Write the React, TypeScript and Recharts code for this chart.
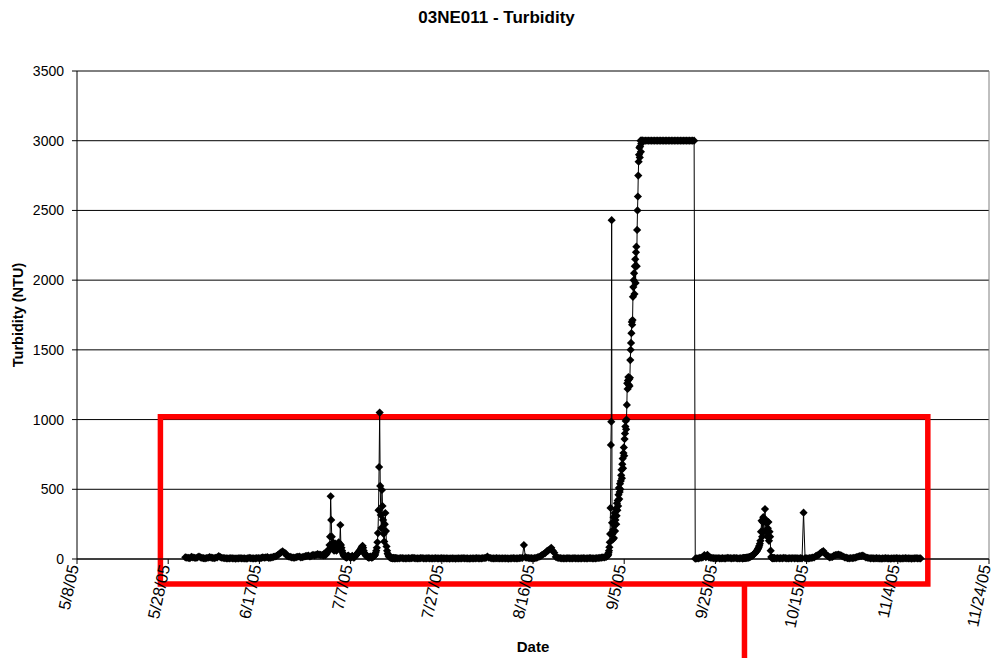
import React from 'react';
import { LineChart, Line, XAxis, YAxis, CartesianGrid, ReferenceArea, ReferenceLine } from 'recharts';

const FONT = '"Liberation Sans", Arial, Helvetica, sans-serif';
const HOUR = 3600000;

// axis ticks
const xTickLabels = ['5/8/05', '5/28/05', '6/17/05', '7/7/05', '7/27/05', '8/16/05', '9/5/05', '9/25/05', '10/15/05', '11/4/05', '11/24/05'];
const yTicks = [0, 500, 1000, 1500, 2000, 2500, 3000, 3500];

// turbidity readings (NTU), one block per logging stretch
// 5/31/05 18:00, every 8 h
const juneReadings = [
  12,
  10, 8, 6, 15, 11, 9, 7, 12, 18, 11, 8, 6, 5, 7, 9, 14, 10, 8, 6, 9, 12, 20, 14, 9, 7, 6, 5, 4, 5, 6,
  5, 4, 3, 4, 5, 6, 5, 4, 4, 3, 5, 8, 6, 5, 5, 4, 6, 7, 5, 8, 12, 9, 11, 14, 8, 10, 11, 15, 18, 22,
  30, 38, 48, 55, 45, 40, 22, 18, 15, 12, 10, 9, 14, 16, 18, 11, 13, 16, 20, 22, 25, 18, 24, 30, 26, 30, 35,
  32, 30, 28,
];
// 7/1/05 00:00, every 3 h
const julyStormReadings = [
  30, 25, 40, 35, 28, 45, 38, 50,
  60, 55, 70, 100, 160, 450, 280, 160,
  90, 120, 70, 60, 85, 110, 75, 60,
  65, 80, 95, 120, 90, 110, 244, 100,
  80, 60, 45, 35, 25, 20, 18, 15,
  12, 10, 14, 20, 25, 18, 15, 12,
  10, 14, 18, 22, 16, 12, 10, 15,
  20, 25, 30, 35, 40, 45, 50, 55,
  60, 65, 72, 80, 88, 95, 80, 60,
  45, 35, 30, 25, 20, 18, 15, 12,
  10, 12, 15, 18, 14, 10, 12, 15,
  18, 20, 25, 30, 45, 60, 80, 120,
  186, 350, 660, 1050, 524, 315, 222, 495,
  380, 280, 180, 125, 250, 330, 200, 90,
  60, 40, 30, 20, 15, 12, 10, 8,
  7, 6, 5, 8, 6, 5, 4, 6,
];
// 7/17/05 00:00, every 8 h
const summerReadings = [
  6, 5, 5, 7, 6, 5, 4, 5, 6, 5, 6, 8, 6, 5, 4, 5, 6, 7, 4, 5, 5, 6, 5, 4, 5, 5, 6, 4, 5, 5,
  6, 5, 5, 4, 4, 3, 5, 4, 4, 3, 4, 5, 4, 5, 6, 5, 4, 4, 3, 4, 5, 4, 5, 6, 5, 4, 4, 6, 7, 8,
  18, 9, 7, 5, 5, 4, 6, 5, 5, 4, 5, 5, 5, 4, 3, 4, 5, 6, 5, 4, 4, 6, 7, 8, 100, 12, 9, 7, 6, 6,
  5, 6, 8, 12, 16, 20, 30, 36, 42, 55, 62, 68, 80, 60, 45, 15, 10, 8, 6, 5, 5, 4, 5, 6,
  5, 4, 4, 6, 5, 5, 4, 5, 5, 6, 5, 4, 5, 6, 6, 4, 5, 5, 6, 7, 8, 10, 11, 12,
];
// 9/1/05 00:00, every 2 h
const septRiseReadings = [
  15, 20, 18, 25, 22, 28,
  30, 45, 60, 85, 120, 180, 366, 818, 985,
  2430,
  260, 180, 140, 210, 300, 150, 240, 330, 200, 280, 360, 250,
  310, 400, 350, 420, 380, 460, 510, 430, 480, 540, 500, 560,
  600, 640, 580, 680, 720, 650, 760, 800, 740, 860, 900, 950,
  990, 930, 1000, 1105, 1260, 1220, 1280, 1305, 1250, 1290, 1240, 1300,
  1427, 1500, 1550, 1620, 1700, 1680, 1714, 1880, 1950, 2000, 2050, 1900,
  2100, 2150, 1980, 2200, 2240, 2100, 2360, 2500, 2600, 2750, 2850, 2900,
  2950, 2880, 2960, 3000, 2920, 2980, 3000, 3000,
];
// 9/9/05 00:00, every 8 h (probe pinned at its upper limit)
const pinnedReadings = [
  3000, 3000, 3000, 3000, 3000, 3000, 3000, 3000, 3000, 3000, 3000, 3000,
  3000, 3000, 3000, 3000, 3000, 3000, 3000, 3000, 3000, 3000, 3000, 3000,
  3000, 3000, 3000, 3000, 3000, 3000, 3000, 3000, 3000, 3000, 3000,
];
// 9/20/05 14:00, every 8 h
const lateSeptReadings = [
  2, 4, 5, 8, 10, 12, 28, 14, 30, 12, 10, 8, 6, 6, 5, 7, 5, 4, 6, 5, 5, 8, 7, 6, 5, 6, 7, 6, 5, 4, 6, 5,
];
// 10/1/05 00:00, every 3 h
const octStormReadings = [
  5, 6, 8, 7, 6, 9, 8, 10,
  9, 11, 10, 12, 14, 16, 18, 20,
  22, 25, 28, 32, 36, 40, 45, 50,
  55, 60, 68, 75, 85, 95, 110, 130,
  196, 275, 160, 265, 300, 196, 275, 358,
  265, 196, 275, 160, 220, 265, 130, 196,
  160, 60, 15, 8, 6, 5, 7, 6,
];
// 10/8/05 00:00, every 8 h
const autumnReadings = [
  6, 5, 7, 4, 6, 5, 8, 6, 5, 4, 6, 5, 7, 5, 6, 4, 5, 6, 5, 332, 6, 5, 4, 6, 8, 10, 12, 20, 26, 30,
  42, 50, 57, 40, 30, 22, 12, 14, 15, 25, 28, 30, 32, 28, 24, 18, 12, 10, 6, 5, 7, 6, 8, 10, 14, 18, 20,
  22, 25, 18, 12, 9, 7, 5, 6, 4, 5, 6, 4, 5, 3, 4, 5, 6, 4, 5, 3, 4, 5, 4, 6, 5, 4, 3, 5, 4, 6,
  5, 4, 5, 3, 4, 5, 6, 4, 5, 4,
];

const toTime = (label: string, hour = 0) => {
  const [m, d, y] = label.split('/').map(Number);
  return Date.UTC(2000 + y, m - 1, d, hour);
};

const blocks = [
  { start: toTime('5/31/05', 18), step: 8, values: juneReadings },
  { start: toTime('7/1/05'), step: 3, values: julyStormReadings },
  { start: toTime('7/17/05'), step: 8, values: summerReadings },
  { start: toTime('9/1/05'), step: 2, values: septRiseReadings },
  { start: toTime('9/9/05'), step: 8, values: pinnedReadings },
  { start: toTime('9/20/05', 14), step: 8, values: lateSeptReadings },
  { start: toTime('10/1/05'), step: 3, values: octStormReadings },
  { start: toTime('10/8/05'), step: 8, values: autumnReadings },
];

const data = blocks.flatMap((b) => b.values.map((v, i) => ({ t: b.start + i * b.step * HOUR, v })));

const xTicks = xTickLabels.map((l) => toTime(l));
const xLabelOf = new Map(xTicks.map((t, i) => [t, xTickLabels[i]]));

// highlighted stretch and its callout stem, in data units
const boxFrom = toTime('5/26/05', 7);
const boxTo = toTime('11/10/05', 14);
const boxLow = -180;
const boxHigh = 1020;
const stemAt = toTime('10/1/05', 9);

const Diamond = (props: any) => {
  const { cx, cy, index } = props;
  if (cx == null || cy == null) return <g key={index} />;
  const r = 4.1;
  return <path key={index} d={`M${cx},${cy - r}L${cx + r},${cy}L${cx},${cy + r}L${cx - r},${cy}Z`} fill="#000" />;
};

const DateTick = (props: any) => {
  const { x, y, payload } = props;
  const ax = x + 2;
  const ay = y;
  return (
    <text x={ax} y={ay} transform={`rotate(-78, ${ax}, ${ay})`} textAnchor="end" fontSize={16.5} fontFamily={FONT} fill="#000">
      {xLabelOf.get(payload.value) ?? ''}
    </text>
  );
};

const YTitle = (props: any) => {
  const vb = props.viewBox;
  const cx = 18;
  const cy = vb.y + vb.height / 2;
  return (
    <text x={cx} y={cy} transform={`rotate(-90, ${cx}, ${cy})`} textAnchor="middle" dominantBaseline="central"
      fontSize={14.5} fontWeight="bold" fontFamily={FONT} fill="#000">
      Turbidity (NTU)
    </text>
  );
};

const XTitle = (props: any) => {
  const vb = props.viewBox;
  return (
    <text x={vb.x + vb.width / 2} y={646} textAnchor="middle" dominantBaseline="central"
      fontSize={15} fontWeight="bold" fontFamily={FONT} fill="#000">
      Date
    </text>
  );
};

export default function App() {
  return (
    <div style={{ position: 'absolute', left: 0, top: 0, width: 993, height: 658, background: '#fff', fontFamily: FONT }}>
      <div style={{ position: 'absolute', top: 8, left: 0, width: 993, textAlign: 'center', fontSize: 17, fontWeight: 'bold' }}>
        03NE011 - Turbidity
      </div>
      <LineChart width={993} height={658} data={data} margin={{ top: 71, right: 4, bottom: 0, left: 0 }}>
        <CartesianGrid vertical={false} stroke="#000" strokeWidth={1} />
        <XAxis
          dataKey="t"
          type="number"
          domain={[xTicks[0], xTicks[xTicks.length - 1]]}
          ticks={xTicks}
          interval={0}
          height={99}
          tickSize={5}
          tickMargin={2}
          tick={<DateTick />}
          axisLine={{ stroke: '#000' }}
          tickLine={{ stroke: '#000' }}
          label={XTitle}
        />
        <YAxis
          type="number"
          domain={[0, 3500]}
          ticks={yTicks}
          interval={0}
          width={77}
          tickSize={5}
          tickMargin={8}
          tick={{ fontSize: 14, fill: '#000', fontFamily: FONT }}
          axisLine={{ stroke: '#000' }}
          tickLine={{ stroke: '#000' }}
          label={YTitle}
        />
        <ReferenceLine y={3500} stroke="#808080" />
        <ReferenceLine x={xTicks[xTicks.length - 1]} stroke="#808080" />
        <Line
          type="linear"
          dataKey="v"
          stroke="#000"
          strokeWidth={1}
          dot={Diamond}
          activeDot={false}
          isAnimationActive={false}
        />
        <ReferenceArea x1={boxFrom} x2={boxTo} y1={boxLow} y2={boxHigh} fill="none" fillOpacity={0}
          stroke="#ff0000" strokeWidth={5.5} ifOverflow="visible" />
        <ReferenceLine segment={[{ x: stemAt, y: boxLow }, { x: stemAt, y: -760 }]} stroke="#ff0000" strokeWidth={5.5}
          ifOverflow="visible" />
      </LineChart>
    </div>
  );
}
